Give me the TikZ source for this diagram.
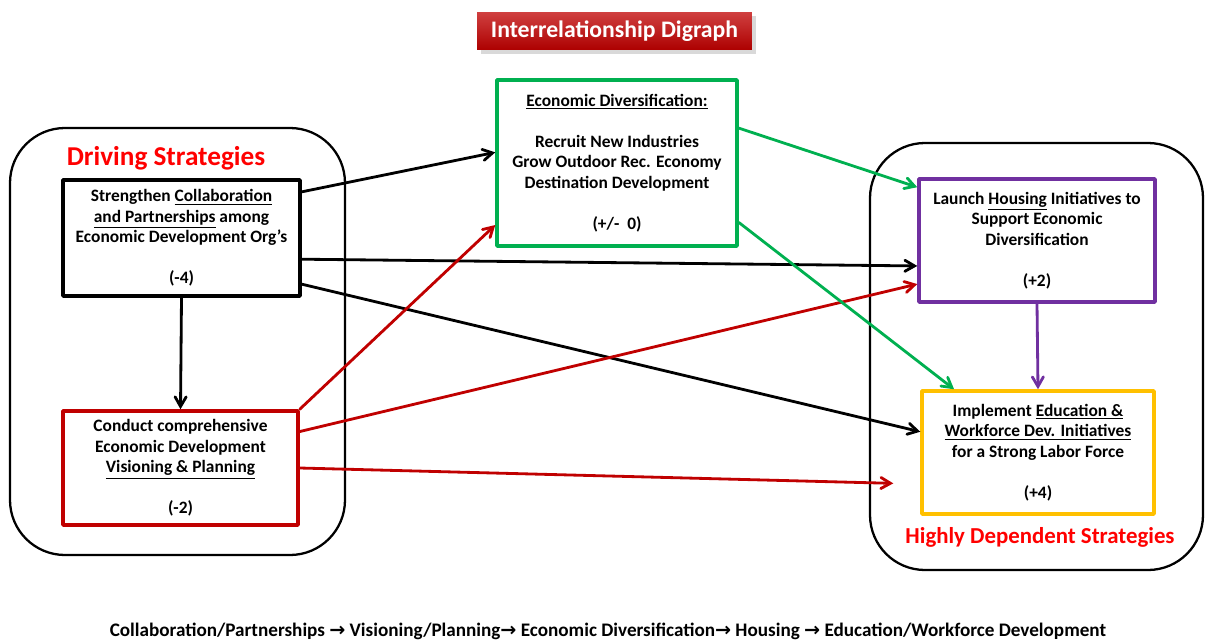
\documentclass[tikz,border=0pt]{standalone}
\usepackage{fontspec}
\setmainfont{Carlito}
\newfontfamily\arrowfont{DejaVu Sans}
\usetikzlibrary{arrows,shadows}
\definecolor{boxred}{HTML}{C00000}
\definecolor{boxgreen}{HTML}{00B050}
\definecolor{boxpurple}{HTML}{7030A0}
\definecolor{boxyellow}{HTML}{FFC000}
\definecolor{headred}{HTML}{FF0000}
\newcommand{\nextstep}{{\arrowfont\bfseries →}}
\tikzset{
	strategy/.style={draw,line width=2pt,fill=white,align=center,inner sep=2pt,font=\fontsize{9.9}{11.7}\selectfont\bfseries},
	group/.style={draw,line width=1.3pt,rounded corners=1.1cm},
	link/.style={->,line width=1.6pt,line cap=round},
	heading/.style={text=headred,font=\fontsize{13}{15}\selectfont\bfseries}
}
\begin{document}
\begin{tikzpicture}[line join=round,>=angle 60,x=0.02cm,y=-0.02cm]
		\clip (0,0) rectangle (1213,639);
		\draw[group] (10,128) rectangle (345,555);
		\draw[group] (870,143) rectangle (1203,570);
		\node[heading,font=\fontsize{15.5}{18}\selectfont\bfseries] (drivinglabel) at (166,158) {Driving Strategies};
		\node[heading] (dependentlabel) at (1040,537) {Highly Dependent Strategies};
		\node[top color=boxred!75!white,bottom color=boxred!90!black,drop shadow={opacity=0.3},minimum width=5.5cm,minimum height=0.76cm,text=white,font=\fontsize{13.5}{16}\selectfont\bfseries] (title) at (614.5,31) {Interrelationship Digraph};
		\node[strategy,minimum width=4.74cm,minimum height=2.32cm] (collab) at (181.5,238) {Strengthen \underline{Collaboration}\\ \underline{and Partnerships} among\\ Economic Development Org’s\\[\baselineskip] (-4)};
		\node[strategy,draw=boxred,minimum width=4.70cm,minimum height=2.28cm] (vision) at (180.5,468) {Conduct comprehensive\\ Economic Development\\ \underline{Visioning \& Planning}\\[\baselineskip] (-2)};
		\node[strategy,draw=boxgreen,minimum width=4.80cm,minimum height=3.32cm] (diversify) at (617,163) {\underline{Economic Diversification:}\\[\baselineskip] Recruit New Industries\\ Grow Outdoor Rec. Economy\\ Destination Development\\[\baselineskip] (+/-~ 0)};
		\node[strategy,draw=boxpurple,minimum width=4.72cm,minimum height=2.46cm] (housing) at (1037,240.5) {Launch \underline{Housing} Initiatives to\\ Support Economic\\ Diversification\\[\baselineskip] (+2)};
		\node[strategy,draw=boxyellow,minimum width=4.64cm,minimum height=2.46cm] (workforce) at (1038,452.5) {Implement \underline{Education \&}\\ \underline{Workforce Dev. Initiatives}\\ for a Strong Labor Force\\[\baselineskip] (+4)};
		\draw[link] (collab.21) -- (diversify.175);
		\draw[link] (collab.-10) -- (housing.192);
		\draw[link] (collab.-21) -- (workforce.170);
		\draw[link] (collab.south) -- (vision.north);
		\draw[link,boxred] (vision.north east) -- (diversify.207);
		\draw[link,boxred] (vision.17) -- (housing.200);
		\draw[link,boxred,shorten >=0.54cm] (vision.east) -- (workforce.195);
		\draw[link,boxgreen] (diversify.16) -- (housing.156);
		\draw[link,boxgreen] (diversify.-26) -- (workforce.143);
		\draw[link,boxpurple] (housing.south) -- (workforce.north);
		\node[anchor=base,font=\fontsize{10.9}{12}\selectfont\bfseries] (sequence) at (608,636) {Collaboration/Partnerships \nextstep{} Visioning/Planning\nextstep{} Economic Diversification\nextstep{} Housing \nextstep{} Education/Workforce Development};
\end{tikzpicture}
\end{document}
